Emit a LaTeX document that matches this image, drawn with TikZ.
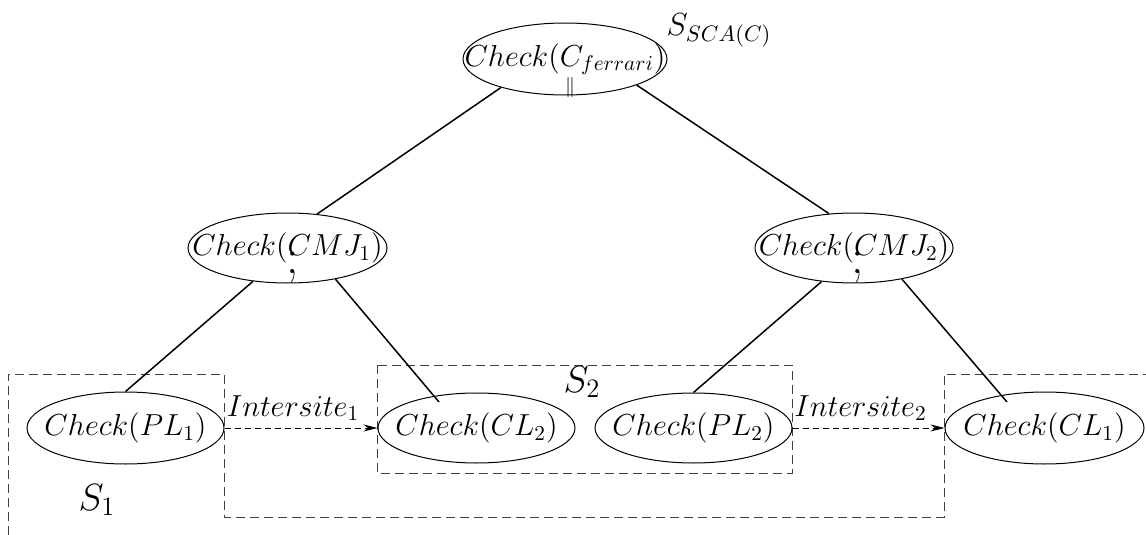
\RequirePackage{fix-cm}
\documentclass[tikz,border=0pt]{standalone}
\usetikzlibrary{arrows,arrows.meta,shapes.geometric,positioning,calc}

\tikzset{
  chk/.style={ellipse,draw,line width=0.5pt,minimum width=98.5pt,minimum height=35.5pt,inner sep=0pt},
  txt/.style={font=\fontsize{15.2}{18}\selectfont},
  site/.style={draw=black!75,line width=0.5pt,dash pattern=on 4.5pt off 2.5pt},
  flow/.style={->,line width=0.5pt,dash pattern=on 3pt off 2pt},
}

\begin{document}
\begin{tikzpicture}[x=0.5pt,y=-0.5pt,>={Stealth[length=7pt,width=3.5pt]},auto,every label/.style={txt}]
\useasboundingbox (0,0) rectangle (1146,535);

            % site boundaries

            \draw[site] (8,535) -- (8,374) -- (224,374) -- (224,517) -- (944,517) -- (944,374) -- (1146,374);

            \draw[site] (377,365) rectangle (792,473);

            % checks

            \node[chk,minimum width=102pt,minimum height=36pt,label=center:{$Check(C_{ferrari})$}] (top) at (565,59) {};

            \node[chk,minimum width=99.5pt,minimum height=35pt,label=center:{$Check(CMJ_1)$}] (cmj1) at (287.5,248) {};

            \node[chk,minimum width=99pt,minimum height=35pt,label=center:{$Check(CMJ_2)$}] (cmj2) at (854,248) {};

            \node[chk,minimum height=36pt,label=center:{$Check(PL_1)$}] (pl1) at (125.5,428) {};

            \node[chk,minimum height=35pt,label=center:{$Check(CL_2)$}] (cl2) [right=76.5pt of pl1] {};

            \node[chk,minimum height=35pt,label=center:{$Check(PL_2)$}] (pl2) [right=9.5pt of cl2] {};

            \node[chk,minimum width=99.5pt,minimum height=36pt,label=center:{$Check(CL_1)$}] (cl1) [right=76pt of pl2] {};

            % operators and site names

            \node[font=\fontsize{10}{12}\selectfont,inner sep=0pt] (par) at (570,88) {$\|$};

            \node[font=\fontsize{25}{30}\selectfont,inner sep=0pt] (seq1) at (293,268) {$;$};

            \node[font=\fontsize{25}{30}\selectfont,inner sep=0pt] (seq2) at (858,268) {$;$};

            \node[font=\fontsize{16}{19}\selectfont] (ssca) at (719,30) {$S_{SCA(C)}$};

            \node[font=\fontsize{19}{22}\selectfont] (s1) at (97,500) {$S_1$};

            \node[font=\fontsize{19}{22}\selectfont] (s2) at (582,382) {$S_2$};

            \coordinate (cl2in) at ($(cl2.center)+(-37.5,-26)$);

            \coordinate (cl1in) at ($(cl1.center)+(-37.5,-26)$);

            

            \path[line width=0.75pt] (top.204) edge (cmj1.49)

                      (top.340) edge (cmj2.126)

                      (cmj1.224) edge (pl1.north)

                      (cmj1.327) edge (cl2in)

                      (cmj2.226) edge (pl2.north)

                      (cmj2.327) edge (cl1in);

            \path[flow] (pl1) edge node[txt,above,xshift=-4pt] {$Intersite_1$} (cl2)

                        (pl2) edge node[txt,above,xshift=-4pt] {$Intersite_2$} (cl1);

        \end{tikzpicture}
\end{document}
